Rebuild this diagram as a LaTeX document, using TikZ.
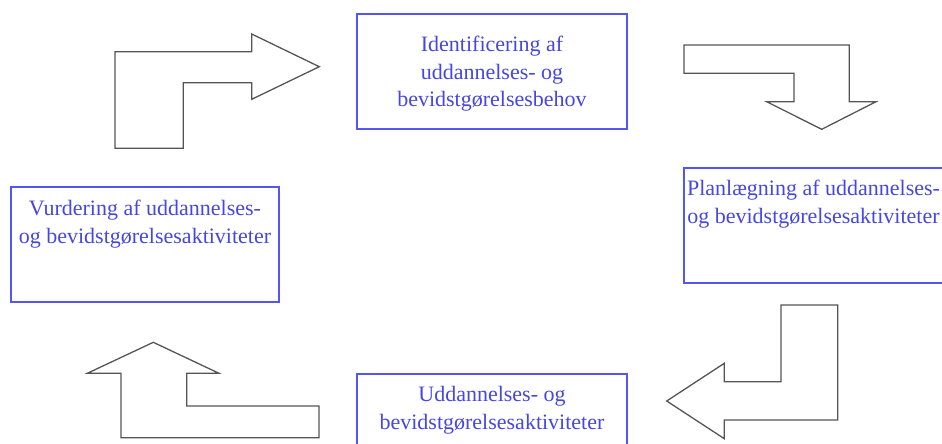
\documentclass[tikz,border=0pt]{standalone}
\usepackage{fontspec}
\setmainfont{Liberation Serif}
\definecolor{boxblue}{RGB}{85,85,240}
\definecolor{textblue}{RGB}{70,70,225}
\definecolor{arrowgray}{RGB}{85,85,85}
\begin{document}
\begin{tikzpicture}[x=1pt,y=-1pt,
  stage/.style={draw=boxblue, line width=2pt, rectangle, inner sep=0pt},
  label/.style={text=textblue, font=\fontsize{22}{27.4}\selectfont, align=center, inner sep=0pt, anchor=base},
  bent/.style={draw=arrowgray, line width=1.3pt, line join=miter, fill=white}]
\clip (0,0) rectangle (942,444);

% the four stages of the cycle
\node[stage, minimum width=269.4pt, minimum height=115pt] (ident) at (492,71.8) {};
\node[stage, minimum width=316pt, minimum height=115pt] (plan) at (842,225.8) {};
\node[stage, minimum width=269.4pt, minimum height=115pt] (act) at (492,431.8) {};
\node[stage, minimum width=268.3pt, minimum height=114.4pt] (eval) at (145.2,244.5) {};

% stage texts (base anchor sits on the last line)
\node[label] (identtext) at (492,106.7) {Identificering af\\uddannelses- og\\bevidstgørelsesbehov};
\node[label] (plantext) at (813.5,223.3) {Planlægning af uddannelses-\\og bevidstgørelsesaktiviteter};
\node[label] (acttext) at (492,429) {Uddannelses- og\\bevidstgørelsesaktiviteter};
\node[label] (evaltext) at (145,243.3) {Vurdering af uddannelses-\\og bevidstgørelsesaktiviteter};

% bent block arrows leading round the cycle
\draw[bent] (115,51.7) -- (251.7,51.7) -- (251.7,34) -- (319.3,66.7) -- (251.7,99.3)
  -- (251.7,82.7) -- (183.3,82.7) -- (183.3,148.3) -- (115,148.3) -- cycle;
\draw[bent] (684,45) -- (849.3,45) -- (849.3,101.7) -- (876,101.7) -- (821.7,129.3)
  -- (766.7,101.7) -- (794,101.7) -- (794,73.3) -- (684,73.3) -- cycle;
\draw[bent] (781,305) -- (837.7,305) -- (837.7,420) -- (724.3,420) -- (724.3,438.7)
  -- (666.7,401) -- (724.3,363.3) -- (724.3,381.7) -- (781,381.7) -- cycle;
\draw[bent] (153.3,342.3) -- (219,373.3) -- (186.7,373.3) -- (186.7,406) -- (319,406)
  -- (319,437.7) -- (121,437.7) -- (121,373.3) -- (87.3,373.3) -- cycle;
\end{tikzpicture}
\end{document}
